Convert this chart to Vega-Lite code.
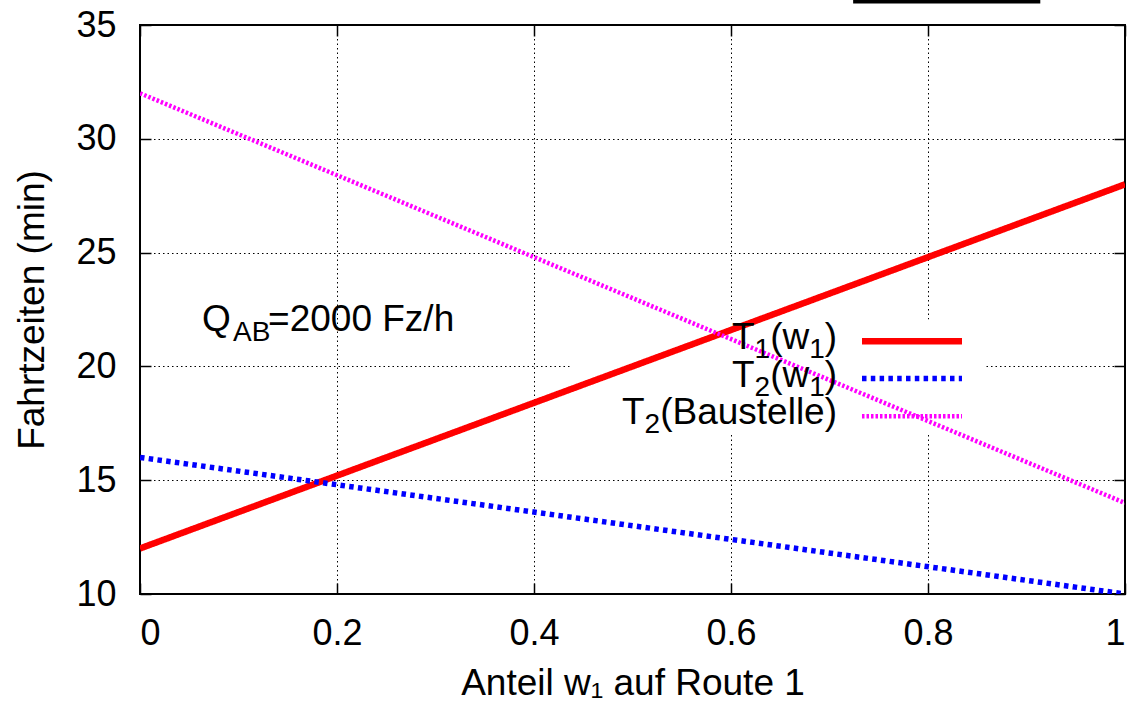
{
  "$schema": "https://vega.github.io/schema/vega-lite/v6.json",
  "width": 985,
  "height": 569,
  "autosize": "none",
  "padding": {"left": 140, "top": 25, "right": 13, "bottom": 114},
  "background": "white",
  "config": {
    "view": {"stroke": "black", "strokeWidth": 2},
    "font": "Liberation Sans",
    "axis": {
      "labelFont": "Liberation Sans",
      "titleFont": "Liberation Sans",
      "labelColor": "#000",
      "titleColor": "#000",
      "labelFontSize": 36,
      "titleFontSize": 37,
      "titleFontWeight": "normal",
      "tickColor": "#000",
      "tickWidth": 1.5,
      "domain": false
    },
    "text": {"font": "Liberation Sans", "color": "#000", "baseline": "alphabetic", "align": "left"}
  },
  "datasets": {
    "lines": [
      {"series": "T₁(w₁)", "w": 0, "T": 12},
      {"series": "T₁(w₁)", "w": 1, "T": 28},
      {"series": "T₂(w₁)", "w": 0, "T": 16},
      {"series": "T₂(w₁)", "w": 1, "T": 10},
      {"series": "T₂(Baustelle)", "w": 0, "T": 32},
      {"series": "T₂(Baustelle)", "w": 1, "T": 14}
    ],
    "legend": [
      {"series": "T₁(w₁)", "lx": 0.601, "ty": 20.75, "t": "T", "s1": "1", "mid": "(w", "s2": "1", "close": ")", "sx1": 0.733, "sx2": 0.8345, "sy": 21.1},
      {"series": "T₂(w₁)", "lx": 0.601, "ty": 19.08, "t": "T", "s1": "2", "mid": "(w", "s2": "1", "close": ")", "sx1": 0.733, "sx2": 0.8345, "sy": 19.47},
      {"series": "T₂(Baustelle)", "lx": 0.4893, "ty": 17.46, "t": "T", "s1": "2", "mid": "(Baustelle)", "s2": "", "close": "", "sx1": 0.733, "sx2": 0.8345, "sy": 17.81}
    ],
    "box": [{"x1": 0.4365, "x2": 0.858, "y1": 22.06, "y2": 17.1}],
    "note": [{"x": 0.063, "y": 21.54, "q": "Q", "sub": "AB", "rest": "=2000 Fz/h"}],
    "topline": [{"x1": 0.724, "x2": 0.914, "y": 36.03}]
  },
  "layer": [
    {
      "data": {"name": "box"},
      "mark": {"type": "rect", "fill": "white", "stroke": null},
      "encoding": {
        "x": {
          "field": "x1", "type": "quantitative",
          "scale": {"domain": [0, 1], "nice": false},
          "axis": {
            "title": "Anteil w₁ auf Route 1",
            "values": [0, 0.2, 0.4, 0.6, 0.8, 1],
            "format": "~g",
            "tickSize": -11,
            "labelPadding": 33,
            "titlePadding": 14,
            "grid": true,
            "gridDash": [1.5, 3],
            "gridColor": "#000",
            "gridWidth": 1
          }
        },
        "x2": {"field": "x2"},
        "y": {
          "field": "y1", "type": "quantitative",
          "scale": {"domain": [10, 35], "nice": false, "zero": false},
          "axis": {
            "title": "Fahrtzeiten (min)",
            "values": [10, 15, 20, 25, 30, 35],
            "tickSize": -11,
            "labelPadding": 35,
            "titlePadding": 24,
            "grid": true,
            "gridDash": [1.5, 3],
            "gridColor": "#000",
            "gridWidth": 1
          }
        },
        "y2": {"field": "y2"}
      }
    },
    {
      "data": {"name": "lines"},
      "mark": {"type": "line", "clip": true},
      "encoding": {
        "x": {
          "field": "w", "type": "quantitative",
          "axis": {"orient": "top", "values": [0, 0.2, 0.4, 0.6, 0.8, 1], "labels": false, "title": null, "tickSize": -11, "grid": false}
        },
        "y": {
          "field": "T", "type": "quantitative",
          "axis": {"orient": "right", "values": [10, 15, 20, 25, 30, 35], "labels": false, "title": null, "tickSize": -11, "grid": false}
        },
        "detail": {"field": "series"},
        "color": {
          "field": "series", "type": "nominal",
          "scale": {"domain": ["T₁(w₁)", "T₂(w₁)", "T₂(Baustelle)"], "range": ["#ff0000", "#0000ff", "#ff00ff"]},
          "legend": null
        },
        "strokeWidth": {
          "field": "series", "type": "nominal",
          "scale": {"domain": ["T₁(w₁)", "T₂(w₁)", "T₂(Baustelle)"], "range": [6.5, 4.5, 4.5]},
          "legend": null
        },
        "strokeDash": {
          "field": "series", "type": "nominal",
          "scale": {"domain": ["T₁(w₁)", "T₂(w₁)", "T₂(Baustelle)"], "range": [[1, 0], [4.5, 4.3], [2.5, 2]]},
          "legend": null
        }
      }
    },
    {
      "data": {"name": "legend"},
      "mark": {"type": "rule"},
      "encoding": {
        "x": {"field": "sx1", "type": "quantitative", "axis": null},
        "x2": {"field": "sx2"},
        "y": {"field": "sy", "type": "quantitative", "axis": null},
        "color": {"field": "series", "type": "nominal", "legend": null},
        "strokeWidth": {"field": "series", "type": "nominal", "legend": null},
        "strokeDash": {"field": "series", "type": "nominal", "legend": null}
      }
    },
    {
      "data": {"name": "legend"},
      "mark": {"type": "text", "fontSize": 37},
      "encoding": {
        "x": {"field": "lx", "type": "quantitative", "axis": null},
        "y": {"field": "ty", "type": "quantitative", "axis": null},
        "text": {"field": "t"}
      }
    },
    {
      "data": {"name": "legend"},
      "mark": {"type": "text", "fontSize": 28, "dx": 22.6, "dy": 9},
      "encoding": {
        "x": {"field": "lx", "type": "quantitative", "axis": null},
        "y": {"field": "ty", "type": "quantitative", "axis": null},
        "text": {"field": "s1"}
      }
    },
    {
      "data": {"name": "legend"},
      "mark": {"type": "text", "fontSize": 37, "dx": 38.2},
      "encoding": {
        "x": {"field": "lx", "type": "quantitative", "axis": null},
        "y": {"field": "ty", "type": "quantitative", "axis": null},
        "text": {"field": "mid"}
      }
    },
    {
      "data": {"name": "legend"},
      "mark": {"type": "text", "fontSize": 28, "dx": 77.2, "dy": 9},
      "encoding": {
        "x": {"field": "lx", "type": "quantitative", "axis": null},
        "y": {"field": "ty", "type": "quantitative", "axis": null},
        "text": {"field": "s2"}
      }
    },
    {
      "data": {"name": "legend"},
      "mark": {"type": "text", "fontSize": 37, "dx": 92.8},
      "encoding": {
        "x": {"field": "lx", "type": "quantitative", "axis": null},
        "y": {"field": "ty", "type": "quantitative", "axis": null},
        "text": {"field": "close"}
      }
    },
    {
      "data": {"name": "note"},
      "mark": {"type": "text", "fontSize": 37},
      "encoding": {
        "x": {"field": "x", "type": "quantitative", "axis": null},
        "y": {"field": "y", "type": "quantitative", "axis": null},
        "text": {"field": "q"}
      }
    },
    {
      "data": {"name": "note"},
      "mark": {"type": "text", "fontSize": 28, "dx": 31, "dy": 10},
      "encoding": {
        "x": {"field": "x", "type": "quantitative", "axis": null},
        "y": {"field": "y", "type": "quantitative", "axis": null},
        "text": {"field": "sub"}
      }
    },
    {
      "data": {"name": "note"},
      "mark": {"type": "text", "fontSize": 37, "dx": 66},
      "encoding": {
        "x": {"field": "x", "type": "quantitative", "axis": null},
        "y": {"field": "y", "type": "quantitative", "axis": null},
        "text": {"field": "rest"}
      }
    },
    {
      "data": {"name": "topline"},
      "mark": {"type": "rule", "color": "#000", "strokeWidth": 4},
      "encoding": {
        "x": {"field": "x1", "type": "quantitative", "axis": null},
        "x2": {"field": "x2"},
        "y": {"field": "y", "type": "quantitative", "axis": null}
      }
    }
  ],
  "resolve": {"axis": {"x": "independent", "y": "independent"}}
}
